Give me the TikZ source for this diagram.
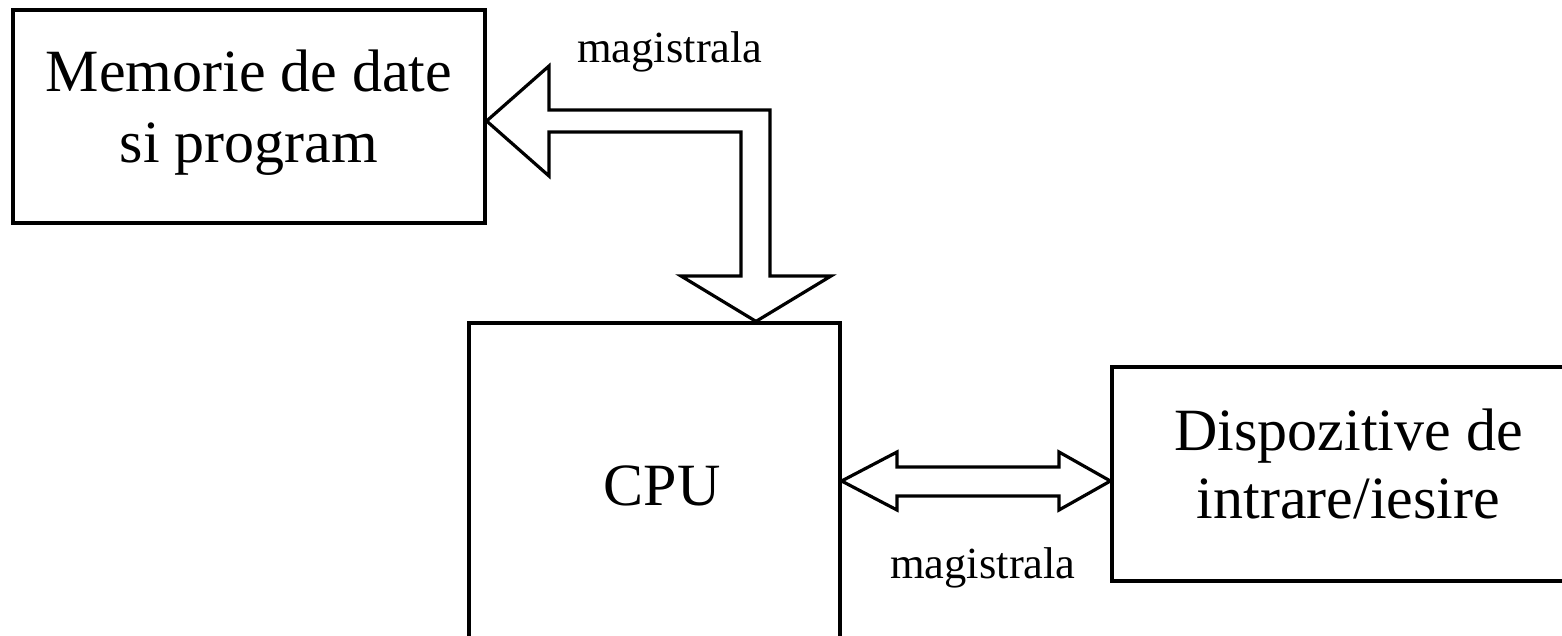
\documentclass[tikz,border=0pt]{standalone}
\usepackage{fontspec}
\setmainfont{Liberation Serif}
\usetikzlibrary{calc}
\begin{document}
\begin{tikzpicture}[x=1pt,y=-1pt,
  boxst/.style={draw,line width=3.2pt,rectangle,inner sep=0pt},
  bigtext/.style={font=\fontsize{60}{70}\selectfont,align=center,anchor=base,inner sep=0pt},
  smalltext/.style={font=\fontsize{44.5}{50}\selectfont,anchor=base,inner sep=0pt},
  bus/.style={draw,line width=3.2pt,line join=miter}]
\useasboundingbox (0,0) rectangle (1562,636);
\clip (0,0) rectangle (1562,636);
% boxes
\node[boxst,minimum width=472pt,minimum height=213pt] (mem) at (249,116.5) {};
\node[boxst,minimum width=371pt,minimum height=337pt] (cpu) at (654.5,491.5) {};
\node[boxst,minimum width=478pt,minimum height=214pt] (io) at (1351,474) {};
% texts
\node[bigtext,font=\fontsize{60}{71}\selectfont] (memtext) at (249,163) {Memorie de date\\si program};
\node[bigtext] (cputext) at (662,505) {CPU};
\node[bigtext,font=\fontsize{60}{68}\selectfont] (iotext) at (1348.5,518) {Dispozitive de\\intrare/iesire};
\node[smalltext] (lab1) at (670,63) {magistrala};
\node[smalltext] (lab2) at (983,578) {magistrala};
% bus memory <-> cpu
\coordinate (t1) at (mem.east |- 0,121);
\coordinate (t2) at (756,0 |- cpu.north);
\draw[bus] (t1) -- (549,66) -- (549,110) -- (770,110) -- (770,276) -- (831,276)
  -- (t2) -- (681,276) -- (741,276) -- (741,132) -- (549,132) -- (549,176) -- cycle;
% bus cpu <-> io
\coordinate (d1) at (cpu.east |- 0,481);
\coordinate (d2) at (io.west |- 0,481);
\draw[bus] (d1) -- (897,452) -- (897,467) -- (1059,467) -- (1059,452) -- (d2)
  -- (1059,510) -- (1059,496) -- (897,496) -- (897,510) -- cycle;
\end{tikzpicture}
\end{document}
